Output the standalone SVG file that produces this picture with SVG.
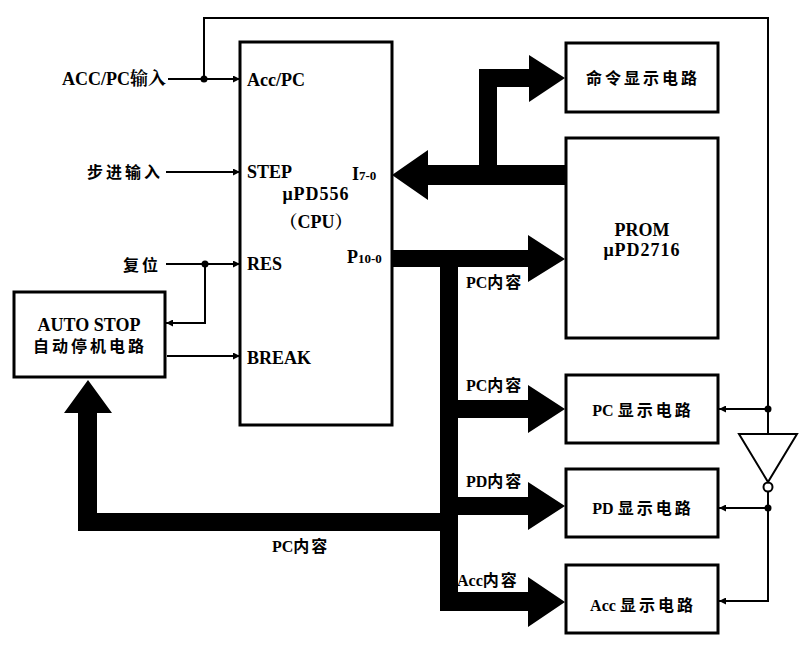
<svg xmlns="http://www.w3.org/2000/svg" width="812" height="650" viewBox="0 0 812 650">
<defs>
<style>
.box{fill:none;stroke:#000;stroke-width:3}
.ln{fill:none;stroke:#000;stroke-width:2}
.bus{fill:#000;stroke:none}
.t{font-family:"Liberation Serif","Noto Serif CJK SC","Noto Sans CJK SC",serif;font-weight:bold;font-size:18px;fill:#000}
.c{font-family:"Liberation Serif","Noto Sans CJK SC",serif;font-weight:bold;font-size:16px;fill:#000}
.s{letter-spacing:3px}
.m{text-anchor:middle}
.e{text-anchor:end}
</style>
<marker id="ah" viewBox="0 0 10 10" refX="10" refY="5" markerWidth="9" markerHeight="7" markerUnits="userSpaceOnUse" orient="auto">
<path d="M0,0 L10,5 L0,10 Z" fill="#000"/>
</marker>
</defs>
<rect width="812" height="650" fill="#fff"/>

<g id="cpu">
<rect class="box" x="240" y="42" width="152" height="383"/>
<text class="t" x="247" y="86">Acc/PC</text>
<text class="t" x="247" y="178">STEP</text>
<text class="t" x="352" y="180">I<tspan font-size="13">7-0</tspan></text>
<text class="t m" x="316" y="200" letter-spacing="1">μPD556</text>
<text class="t m" x="316" y="228" font-size="16">（CPU）</text>
<text class="t" x="247" y="270">RES</text>
<text class="t" x="347" y="263">P<tspan font-size="13">10-0</tspan></text>
<text class="t" x="247" y="364">BREAK</text>
</g>

<g id="autostop">
<rect class="box" x="14" y="292" width="151" height="85"/>
<text class="t m" x="89" y="331">AUTO STOP</text>
<text class="c s m" x="90" y="352">自动停机电路</text>
</g>

<g id="cmd-display">
<rect class="box" x="566" y="43" width="152" height="69"/>
<text class="c s m" x="643" y="84">命令显示电路</text>
</g>

<g id="prom">
<rect class="box" x="566" y="138" width="152" height="200"/>
<text class="t m" x="642" y="236">PROM</text>
<text class="t m" x="642" y="256" letter-spacing="1">μPD2716</text>
</g>

<g id="pc-display">
<rect class="box" x="566" y="375" width="152" height="68"/>
<text class="c m" x="643" y="416">PC <tspan class="s">显示电路</tspan></text>
</g>

<g id="pd-display">
<rect class="box" x="566" y="469" width="152" height="68"/>
<text class="c m" x="643" y="514">PD <tspan class="s">显示电路</tspan></text>
</g>

<g id="acc-display">
<rect class="box" x="566" y="565" width="152" height="68"/>
<text class="c m" x="643" y="611">Acc <tspan class="s">显示电路</tspan></text>
</g>

<g id="inputs">
<text class="t e" x="166" y="85">ACC/PC输入</text>
<text class="c s e" x="163" y="178">步进输入</text>
<text class="c s e" x="161" y="271">复位</text>
</g>

<g id="inverter">
<polygon class="ln" points="739,434 797,434 768,482"/>
<circle class="ln" cx="768" cy="487" r="4.5"/>
</g>

<g id="connectors">
<line class="ln" x1="168" y1="79" x2="240" y2="79" marker-end="url(#ah)"/>
<line class="ln" x1="166" y1="172" x2="240" y2="172" marker-end="url(#ah)"/>
<line class="ln" x1="166" y1="264" x2="240" y2="264" marker-end="url(#ah)"/>
<line class="ln" x1="167" y1="356" x2="240" y2="356" marker-end="url(#ah)"/>
<polyline class="ln" points="205,264 205,323 166,323" marker-end="url(#ah)"/>
<polyline class="ln" points="204,79 204,18 768,18 768,434"/>
<polyline class="ln" points="768,492 768,601 719,601" marker-end="url(#ah)"/>
<line class="ln" x1="768" y1="409" x2="719" y2="409" marker-end="url(#ah)"/>
<line class="ln" x1="768" y1="508" x2="719" y2="508" marker-end="url(#ah)"/>
<circle cx="204" cy="79" r="3.5"/>
<circle cx="205" cy="264" r="3.5"/>
<circle cx="768" cy="409" r="3.5"/>
<circle cx="768" cy="508" r="3.5"/>

<!-- I7-0 bus -->
<polygon class="bus" points="392,175 428,150 428,165 479,165 479,69 529,69 529,55 565,78 529,102 529,87 497,87 497,165 566,165 566,185 428,185 428,200"/>
<!-- P10-0 bus -->
<polygon class="bus" points="392,250 528,250 528,235 565,259 528,282 528,267 458,267 458,400 528,400 528,385 565,409 528,433 528,418 458,418 458,497 528,497 528,482 565,506 528,530 528,515 458,515 458,592 528,592 528,577 565,602 528,627 528,611 440,611 440,531 78,531 78,413 64,413 88,380 112,413 97,413 97,513 440,513 440,267 392,267"/>
</g>

<g id="labels">
<text class="c" x="466" y="288">PC<tspan letter-spacing="2">内容</tspan></text>
<text class="c" x="466" y="391">PC<tspan letter-spacing="2">内容</tspan></text>
<text class="c" x="466" y="487">PD<tspan letter-spacing="2">内容</tspan></text>
<text class="c" x="457" y="586">Acc<tspan letter-spacing="2">内容</tspan></text>
<text class="c" x="272" y="552">PC<tspan letter-spacing="2">内容</tspan></text>
</g>
</svg>
